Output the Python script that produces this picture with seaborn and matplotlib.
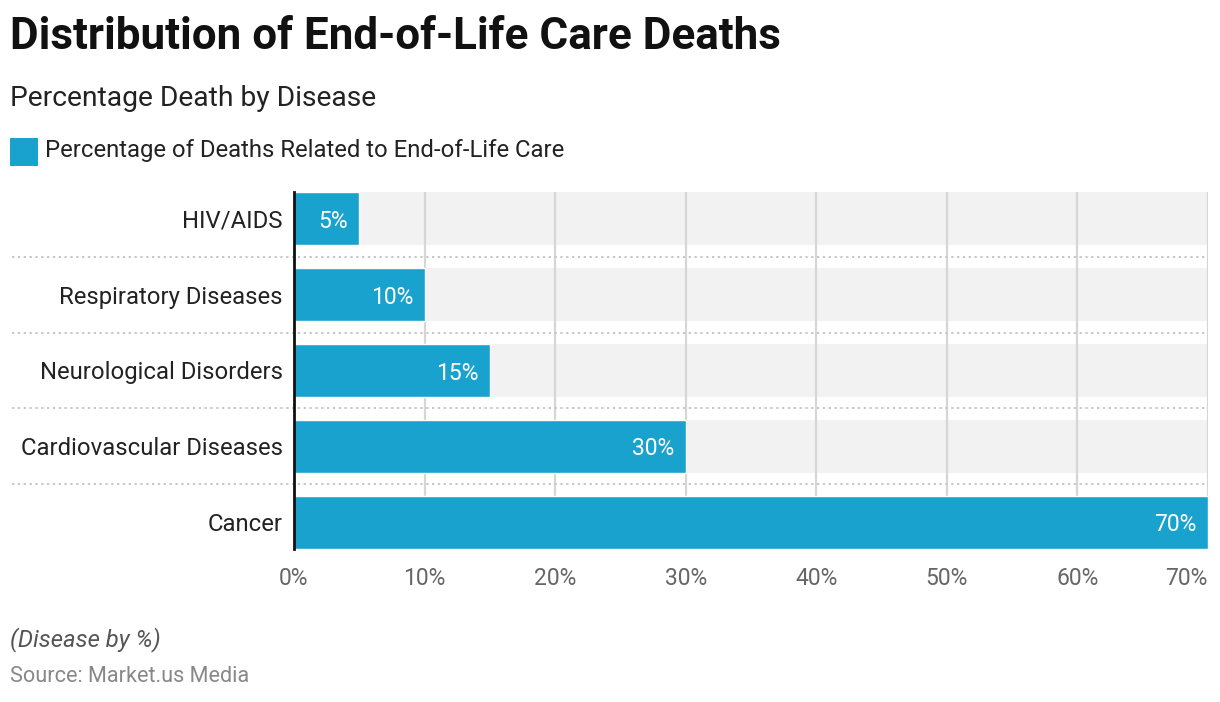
import matplotlib
matplotlib.use("Agg")
import matplotlib.pyplot as plt
import seaborn as sns
import pandas as pd

categories = ["HIV/AIDS", "Respiratory Diseases", "Neurological Disorders",
              "Cardiovascular Diseases", "Cancer"]
values = [5, 10, 15, 30, 70]
x_ticks = [0, 10, 20, 30, 40, 50, 60, 70]
x_tick_labels = [f"{t}%" for t in x_ticks]
value_labels = [f"{v}%" for v in values]

title = "Distribution of End-of-Life Care Deaths"
subtitle = "Percentage Death by Disease"
legend_label = "Percentage of Deaths Related to End-of-Life Care"
note = "(Disease by %)"
source = "Source: Market.us Media"

BAR = "#19A2CD"
BAND = "#F2F2F2"

sns.set_theme(style="white")
plt.rcParams["font.family"] = ["Roboto", "DejaVu Sans"]

df = pd.DataFrame({"category": categories, "value": values})

fig = plt.figure(figsize=(12.2, 7.02), dpi=100)
ax = fig.add_axes([294/1220, 1-549/702, (1208-294)/1220, (549-192)/702])

bar_h = 0.7
for i in range(len(categories)):
    ax.axhspan(i - bar_h/2, i + bar_h/2, color=BAND, zorder=0.2, lw=0)

sns.barplot(data=df, x="value", y="category", orient="h", color=BAR,
            width=bar_h, saturation=1, ax=ax, zorder=2)

ax.set_xlim(0, 70)
ax.set_ylim(len(categories) - 1 + bar_h/2, -bar_h/2)

ax.set_xticks(x_ticks)
ax.set_xticklabels(x_tick_labels)
ax.tick_params(axis="x", length=0, pad=13, labelsize=16.5, labelcolor="#666666")
ax.tick_params(axis="y", length=0, pad=8, labelsize=17.2, labelcolor="#222222")
ax.get_xticklabels()[-1].set_horizontalalignment("right")
ax.set_xlabel("")
ax.set_ylabel("")

ax.set_axisbelow(True)
ax.xaxis.grid(True, color="#D6D6D6", lw=1.6, zorder=0.5)
ax.yaxis.grid(False)

for s in ["top", "right", "bottom"]:
    ax.spines[s].set_visible(False)
ax.spines["left"].set_color("#111111")
ax.spines["left"].set_linewidth(2)
ax.spines["left"].set_zorder(5)

# dotted separators between categories
xmin_frac = (12 - 294) / (1208 - 294)
for i in range(len(categories) - 1):
    ax.axhline(i + 0.5, xmin=xmin_frac, xmax=1, color="#C8C8C8", lw=1.4,
               ls=(0, (1.2, 1.8)), clip_on=False, zorder=1)

# value labels inside bars
for i, (v, lab) in enumerate(zip(values, value_labels)):
    ax.annotate(lab, xy=(v, i), xytext=(-8, 0), textcoords="offset points",
                ha="right", va="center_baseline", color="white",
                fontsize=16.5, zorder=6)

fig.text(10/1220, 1-37/702, title, fontsize=31.7, fontweight="bold",
         color="#111111", ha="left", va="center")
fig.text(10/1220, 1-98/702, subtitle, fontsize=20.3, color="#222222",
         ha="left", va="center")
fig.add_artist(plt.Rectangle((10/1220, 1-166/702), 28/1220, 28/702,
                             transform=fig.transFigure, color=BAR, lw=0))
fig.text(45/1220, 1-151/702, legend_label, fontsize=17.2, color="#222222",
         ha="left", va="center")
fig.text(10/1220, 1-640/702, note, fontsize=17.2, style="italic",
         color="#555555", ha="left", va="center")
fig.text(10/1220, 1-677/702, source, fontsize=15.6, color="#888888",
         ha="left", va="center")

fig.savefig("out.png", dpi=100)
